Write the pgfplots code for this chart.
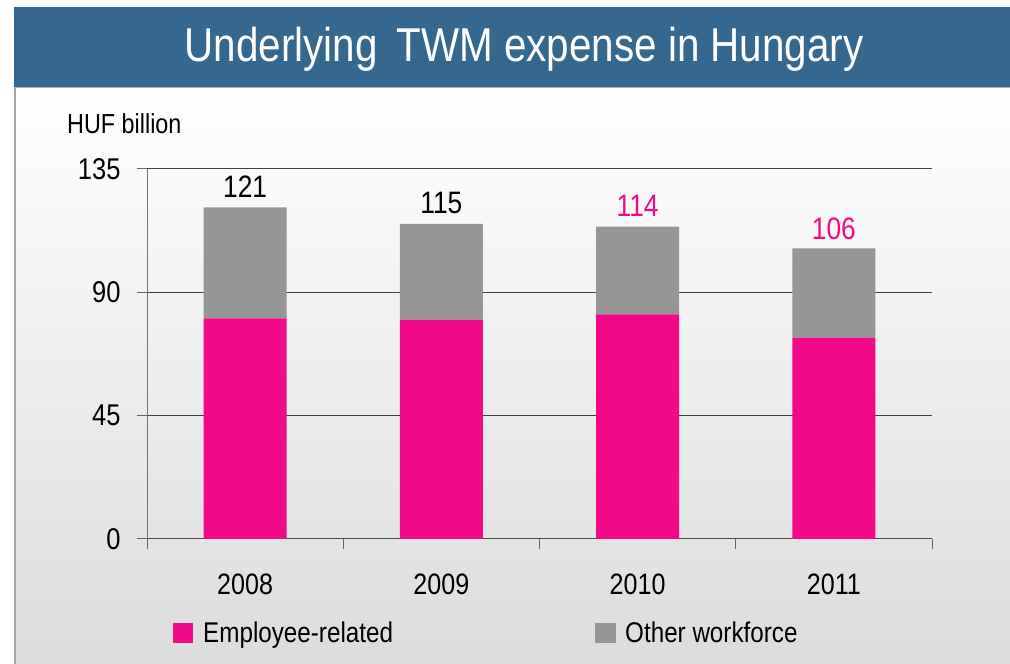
\documentclass[border=0pt]{standalone}
\usepackage{pgfplots}
\pgfplotsset{compat=1.18}
\usepackage{fontspec}
\setmainfont{Liberation Sans}[FakeStretch=0.85]
\definecolor{tpink}{RGB}{240,10,135}
\definecolor{tgray}{RGB}{150,150,150}
\definecolor{tblue}{RGB}{54,103,142}
\definecolor{bglow}{RGB}{220,220,220}
\begin{document}
\begin{tikzpicture}
\useasboundingbox (0pt,0pt) rectangle (1010pt,664pt);
\fill[white] (0pt,0pt) rectangle (1010pt,664pt);
\shade[top color=white, bottom color=bglow] (14pt,0pt) rectangle (1010pt,577pt);
\draw[gray!70, line width=1.5pt] (14.75pt,0pt) -- (14.75pt,577pt);
\fill[tblue] (14pt,577pt) rectangle (1010pt,657pt);
\draw[gray!60, line width=1.5pt] (14pt,576.25pt) -- (1010pt,576.25pt);
\node[white, anchor=base, font=\fontsize{47.5}{47.5}\selectfont] at (524pt,602pt) {Underlying\hspace{0.4em}TWM expense in Hungary};
\node[anchor=base west, inner sep=0pt, font=\fontsize{27.5}{27.5}\selectfont] at (67pt,530pt) {HUF billion};
\begin{axis}[
  at={(147pt,125pt)}, anchor=south west,
  width=785pt, height=370pt, scale only axis,
  ymin=0, ymax=135, xmin=-0.5, xmax=3.5,
  ybar stacked, bar width=83pt,
  axis x line*=bottom, axis y line*=left,
  ytick={0,45,90,135},
  xtick={-0.5,0.5,1.5,2.5,3.5}, xticklabels={},
  extra x ticks={0,1,2,3},
  extra x tick labels={2008,2009,2010,2011},
  extra x tick style={major tick length=0pt, xticklabel style={yshift=-31pt}},
  ymajorgrids, grid style={black!75, line width=1pt},
  y axis line style={black!55, line width=1pt},
  x axis line style={black!70, line width=1pt},
  tick style={black!60, line width=1pt},
  major tick length=10pt, tick align=outside,
  yticklabel style={font=\fontsize{30}{30}\selectfont, xshift=-13pt},
  xticklabel style={font=\fontsize{29.5}{29.5}\selectfont},
  /pgf/number format/assume math mode=true,
  clip=false,
]
\addplot[fill=tpink, draw=none] coordinates {(0,80.5) (1,80) (2,82) (3,73.5)};
\addplot[fill=tgray, draw=none] coordinates {(0,40.5) (1,35) (2,32) (3,32.5)};
\node[anchor=base, font=\fontsize{31}{31}\selectfont] at (axis cs:0,121) [yshift=10pt] {121};
\node[anchor=base, font=\fontsize{31}{31}\selectfont] at (axis cs:1,115) [yshift=10pt] {115};
\node[anchor=base, text=tpink, font=\fontsize{31}{31}\selectfont] at (axis cs:2,114) [yshift=10pt] {114};
\node[anchor=base, text=tpink, font=\fontsize{31}{31}\selectfont] at (axis cs:3,106) [yshift=9pt] {106};
\end{axis}
\fill[tpink] (173pt,21pt) rectangle (193pt,41pt);
\node[anchor=base west, inner sep=0pt, font=\fontsize{28.5}{28.5}\selectfont] at (203pt,21pt) {Employee-related};
\fill[tgray] (595pt,21pt) rectangle (616pt,41pt);
\node[anchor=base west, inner sep=0pt, font=\fontsize{28.5}{28.5}\selectfont] at (625pt,21pt) {Other workforce};
\end{tikzpicture}
\end{document}
